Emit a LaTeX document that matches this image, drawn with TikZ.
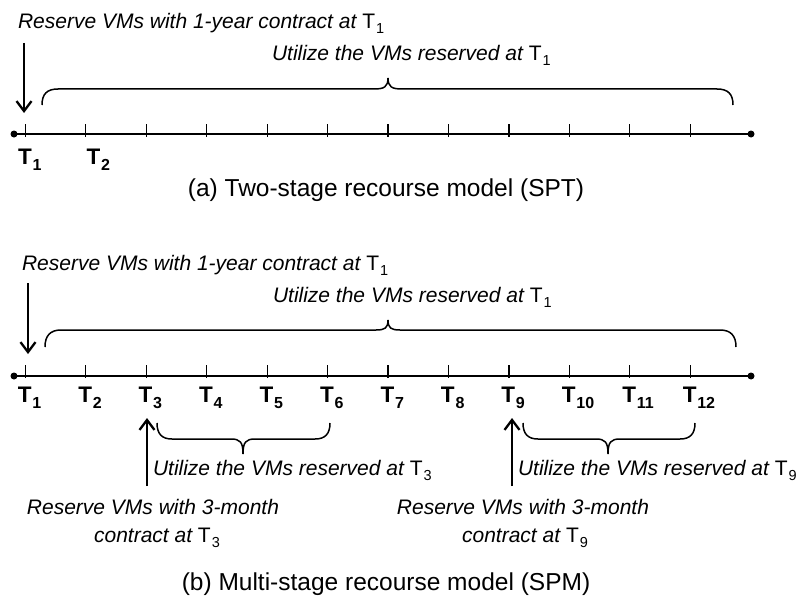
\documentclass[tikz,border=0pt]{standalone}
\usepackage{fontspec}
\setmainfont{Liberation Sans}
\usetikzlibrary{arrows.meta}

% bold period label T_n and upright T_n inside running text
\newcommand{\Tb}[1]{\textbf{T\kern0.8pt\raisebox{-6pt}{\fontsize{16}{16}\selectfont\bfseries #1}}}
\newcommand{\Tr}[1]{{\upshape T\kern1pt\raisebox{-5pt}{\fontsize{14.5}{14}\selectfont #1}}}

\begin{document}
\begin{tikzpicture}[x=1pt,y=-1pt,
  every node/.style={inner sep=0pt,outer sep=0pt},
  axis/.style={line width=1.8pt},
  tickmark/.style={line width=1.2pt},
  endpt/.style={circle,fill=black,minimum size=7pt},
  note/.style={font=\fontsize{21}{25}\selectfont\itshape,anchor=base west},
  notec/.style={font=\fontsize{21}{25}\selectfont\itshape,anchor=base},
  tlabel/.style={font=\fontsize{22.5}{25}\selectfont,anchor=base west},
  caption/.style={font=\fontsize{24.5}{28}\selectfont,anchor=base},
  marker/.style={line width=2.3pt,-{Straight Barb[length=10pt,width=15pt]}},
  spanbrace/.style={line width=1.5pt},
]
\useasboundingbox (0,0) rectangle (802,599);

% ---------------- (a) two-stage model ----------------
\node[endpt] (aL) at (14,134) {};
\node[endpt] (aR) at (751,134) {};
\draw[axis] (aL.center) -- (aR.center);
\foreach \i in {1,...,12}{
  \coordinate (a\i) at ({25.3+(\i-1)*60.45},134);
  \draw[tickmark] ([yshift=10pt]a\i) -- ([yshift=-3pt]a\i);
}
\node[tlabel] (la1) at (18,164) {\Tb{1}};
\node[tlabel] (la2) at (86.5,164) {\Tb{2}};

\node[note] (ra) at (18,29) {Reserve VMs with 1-year contract at \Tr{1}};
\coordinate (raS) at (24,43);
\coordinate (raE) at (24,113);
\draw[marker] (raS) -- (raE);

\node[note] (ua) at (272,61) {Utilize the VMs reserved at \Tr{1}};
\draw[spanbrace] (42,105) .. controls (42,94) and (47,89) .. (58,89) -- (374,89)
  .. controls (384,89) and (388,87) .. (388,78)
  .. controls (388,87) and (392,89) .. (402,89) -- (717,89)
  .. controls (728,89) and (733,94) .. (733,105);

\node[caption] (capa) at (386,196) {(a) Two-stage recourse model (SPT)};

% ---------------- (b) multi-stage model ----------------
\node[endpt] (bL) at (14,376) {};
\node[endpt] (bR) at (751,376) {};
\draw[axis] (bL.center) -- (bR.center);
\foreach \i in {1,...,12}{
  \coordinate (b\i) at ({25.3+(\i-1)*60.45},376);
  \draw[tickmark] ([yshift=11pt]b\i) -- ([yshift=-2pt]b\i);
  \node[tlabel] (lb\i) at ([xshift=-7.5pt,yshift=-26pt]b\i) {\Tb{\i}};
}

\node[note] (rb) at (22,270) {Reserve VMs with 1-year contract at \Tr{1}};
\coordinate (rbS) at (28,283);
\coordinate (rbE) at (28,354);
\draw[marker] (rbS) -- (rbE);

\node[note] (ub) at (273,302) {Utilize the VMs reserved at \Tr{1}};
\draw[spanbrace] (45,347) .. controls (45,336) and (50,330) .. (61,330) -- (376,330)
  .. controls (385,330) and (388,328) .. (388,320)
  .. controls (388,328) and (391,330) .. (400,330) -- (720,330)
  .. controls (731,330) and (736,336) .. (736,347);

% quarterly reservation at T3
\coordinate (r3S) at (147,486);
\coordinate (r3E) at (147,418);
\draw[marker] (r3S) -- (r3E);
\draw[spanbrace] (157,423) .. controls (157,434) and (162,439) .. (172,439) -- (231,439)
  .. controls (240,439) and (243,442) .. (243,454)
  .. controls (243,442) and (246,439) .. (255,439) -- (315,439)
  .. controls (325,439) and (330,434) .. (330,423);
\node[note] (u3) at (153,475) {Utilize the VMs reserved at \Tr{3}};
\node[notec] (r3a) at (153,514) {Reserve VMs with 3-month};
\node[notec] (r3b) at (157,542) {contract at \Tr{3}};

% quarterly reservation at T9
\coordinate (r9S) at (512,486);
\coordinate (r9E) at (512,418);
\draw[marker] (r9S) -- (r9E);
\draw[spanbrace] (523,423) .. controls (523,434) and (528,439) .. (538,439) -- (596,439)
  .. controls (605,439) and (608,442) .. (608,454)
  .. controls (608,442) and (611,439) .. (620,439) -- (680,439)
  .. controls (690,439) and (695,434) .. (695,423);
\node[note] (u9) at (518,475) {Utilize the VMs reserved at \Tr{9}};
\node[notec] (r9a) at (523,514) {Reserve VMs with 3-month};
\node[notec] (r9b) at (525,542) {contract at \Tr{9}};

\node[caption] (capb) at (386,590) {(b) Multi-stage recourse model (SPM)};
\end{tikzpicture}
\end{document}
